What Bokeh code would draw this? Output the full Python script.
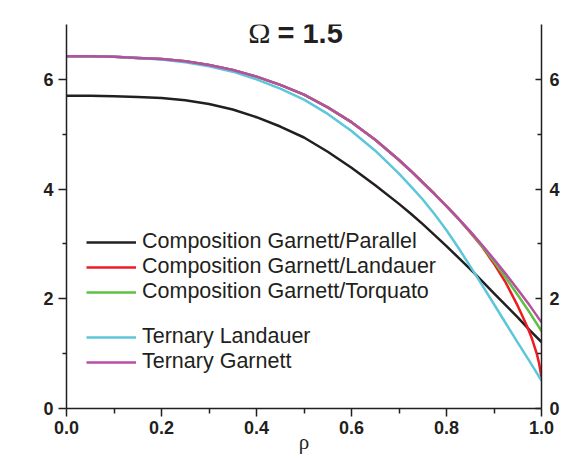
from bokeh.plotting import figure
from bokeh.models import (Range1d, LinearAxis, FixedTicker, Legend, LegendItem,
                          Label, PrintfTickFormatter)
from bokeh.embed import file_html
from bokeh.resources import INLINE

# radial coordinate rho
rho = [0.0, 0.05, 0.1, 0.15, 0.2, 0.25, 0.3, 0.35, 0.4, 0.45, 0.5, 0.55, 0.6, 0.65, 0.7,
       0.725, 0.75, 0.775, 0.8, 0.825, 0.85, 0.875, 0.9, 0.925, 0.95, 0.975, 1.0]

# Composition Garnett/Parallel
b_parallel = [5.70, 5.70, 5.69, 5.68, 5.66, 5.62, 5.55, 5.45, 5.31, 5.14, 4.94, 4.68, 4.39,
              4.07, 3.73, 3.55, 3.36, 3.16, 2.96, 2.75, 2.54, 2.32, 2.10, 1.88, 1.66, 1.43, 1.21]

# Ternary Garnett
b_ternary_garnett = [6.42, 6.42, 6.41, 6.39, 6.37, 6.33, 6.26, 6.17, 6.05, 5.90, 5.72, 5.49,
                     5.22, 4.90, 4.53, 4.33, 4.12, 3.91, 3.69, 3.46, 3.23, 2.98, 2.72, 2.45,
                     2.17, 1.88, 1.57]

# Ternary Landauer
b_ternary_landauer = [6.42, 6.42, 6.41, 6.39, 6.36, 6.31, 6.24, 6.14, 6.00, 5.83, 5.63, 5.37,
                      5.06, 4.70, 4.28, 4.05, 3.81, 3.54, 3.25, 2.93, 2.59, 2.25, 1.90, 1.55,
                      1.20, 0.86, 0.51]

# Composition Garnett/Torquato
b_torquato = [6.42, 6.42, 6.41, 6.39, 6.37, 6.33, 6.26, 6.17, 6.05, 5.90, 5.72, 5.49, 5.22,
              4.90, 4.53, 4.33, 4.12, 3.91, 3.69, 3.46, 3.22, 2.96, 2.68, 2.38, 2.07, 1.75, 1.41]

# Composition Garnett/Landauer (denser sampling near the wall)
rho_landauer = [0.0, 0.05, 0.1, 0.15, 0.2, 0.25, 0.3, 0.35, 0.4, 0.45, 0.5, 0.55, 0.6, 0.65,
                0.7, 0.725, 0.75, 0.775, 0.8, 0.825, 0.85, 0.875, 0.9, 0.925, 0.95, 0.96,
                0.97, 0.98, 0.99, 0.995, 1.0]
b_landauer = [6.42, 6.42, 6.41, 6.39, 6.37, 6.33, 6.26, 6.17, 6.05, 5.90, 5.72, 5.49, 5.22,
              4.90, 4.53, 4.33, 4.12, 3.91, 3.69, 3.46, 3.21, 2.95, 2.64, 2.29, 1.87, 1.68,
              1.49, 1.27, 1.00, 0.82, 0.57]

y_ticks = [0, 2, 4, 6]
y_minor = [1, 3, 5]
x_ticks = [0.0, 0.2, 0.4, 0.6, 0.8, 1.0]
x_minor = [0.1, 0.3, 0.5, 0.7, 0.9]

INK = "#231f20"
COLORS = {
    "parallel": "#231f20",
    "landauer": "#ed1c24",
    "torquato": "#62bf44",
    "t_landauer": "#5ec6da",
    "t_garnett": "#b64ea2",
}

p = figure(width=563, height=458, output_backend="svg", toolbar_location=None,
           x_range=Range1d(0, 1), y_range=Range1d(0, 7),
           min_border_left=66, min_border_right=22, min_border_top=24,
           min_border_bottom=50)
p.outline_line_color = None
p.xgrid.visible = False
p.ygrid.visible = False
p.background_fill_color = "white"
p.border_fill_color = "white"

# bottom axis
xa = p.xaxis[0]
xa.ticker = FixedTicker(ticks=x_ticks, minor_ticks=x_minor)
xa.formatter = PrintfTickFormatter(format="%.1f")
xa.major_tick_out = 8
xa.major_tick_in = 0
xa.minor_tick_out = 5
xa.minor_tick_in = 0
xa.major_label_standoff = 4
xa.axis_label = "ρ"
xa.axis_label_text_font = "Liberation Serif"
xa.axis_label_text_font_style = "normal"
xa.axis_label_text_font_size = "21px"
xa.axis_label_text_color = INK
xa.axis_label_standoff = -7

# left axis
ya = p.yaxis[0]
ya.ticker = FixedTicker(ticks=y_ticks, minor_ticks=y_minor)
ya.major_tick_out = 8
ya.major_tick_in = 0
ya.minor_tick_out = 4
ya.minor_tick_in = 0
ya.major_label_standoff = 5

# right axis, ticks pointing inward
ra = LinearAxis(ticker=FixedTicker(ticks=y_ticks, minor_ticks=y_minor))
ra.major_tick_in = 6
ra.major_tick_out = 0
ra.minor_tick_in = 4
ra.minor_tick_out = 0
ra.major_label_standoff = 8
p.add_layout(ra, "right")

for ax in (xa, ya, ra):
    ax.axis_line_color = INK
    ax.axis_line_width = 1.5
    ax.major_tick_line_color = INK
    ax.major_tick_line_width = 1.5
    ax.minor_tick_line_color = INK
    ax.minor_tick_line_width = 1.5
    ax.major_label_text_font = "Liberation Sans"
    ax.major_label_text_font_style = "bold"
    ax.major_label_text_font_size = "18px"
    ax.major_label_text_color = INK

# y-axis title, set a little below the middle of the axis
p.add_layout(Label(x=-45, y=165, x_units="screen", y_units="screen", text="B",
                   text_font="Liberation Sans", text_font_style="bold",
                   text_font_size="23px", text_align="center", text_baseline="middle",
                   text_color=INK))

LW = 2.5
r_par = p.line(rho, b_parallel, line_color=COLORS["parallel"], line_width=LW)
r_lan = p.line(rho_landauer, b_landauer, line_color=COLORS["landauer"], line_width=LW)
r_tor = p.line(rho, b_torquato, line_color=COLORS["torquato"], line_width=LW)
r_tl = p.line(rho, b_ternary_landauer, line_color=COLORS["t_landauer"], line_width=LW)
r_tg = p.line(rho, b_ternary_garnett, line_color=COLORS["t_garnett"], line_width=LW)


def make_legend(items, loc):
    leg = Legend(items=items, location=loc)
    leg.border_line_color = None
    leg.background_fill_alpha = 0
    leg.padding = 0
    leg.margin = 0
    leg.spacing = 0
    leg.glyph_width = 50
    leg.glyph_height = 24
    leg.label_height = 24
    leg.label_standoff = 6
    leg.label_text_font = "Liberation Sans"
    leg.label_text_font_size = "21.5px"
    leg.label_text_color = INK
    return leg


leg1 = make_legend([
    LegendItem(label="Composition Garnett/Parallel", renderers=[r_par]),
    LegendItem(label="Composition Garnett/Landauer", renderers=[r_lan]),
    LegendItem(label="Composition Garnett/Torquato", renderers=[r_tor]),
], (20, 104))
leg2 = make_legend([
    LegendItem(label="Ternary Landauer", renderers=[r_tl]),
    LegendItem(label="Ternary Garnett", renderers=[r_tg]),
], (20, 34))
p.add_layout(leg1)
p.add_layout(leg2)

# heading: Omega = 1.5
p.add_layout(Label(x=193, y=376, x_units="screen", y_units="screen", text="Ω",
                   text_font="Liberation Serif", text_font_size="30px",
                   text_align="center", text_baseline="middle", text_color=INK))
p.add_layout(Label(x=211, y=376, x_units="screen", y_units="screen", text="= 1.5",
                   text_font="Liberation Sans", text_font_style="bold",
                   text_font_size="29px", text_align="left", text_baseline="middle",
                   text_color=INK))

open("out.html", "w").write(file_html(p, INLINE))
